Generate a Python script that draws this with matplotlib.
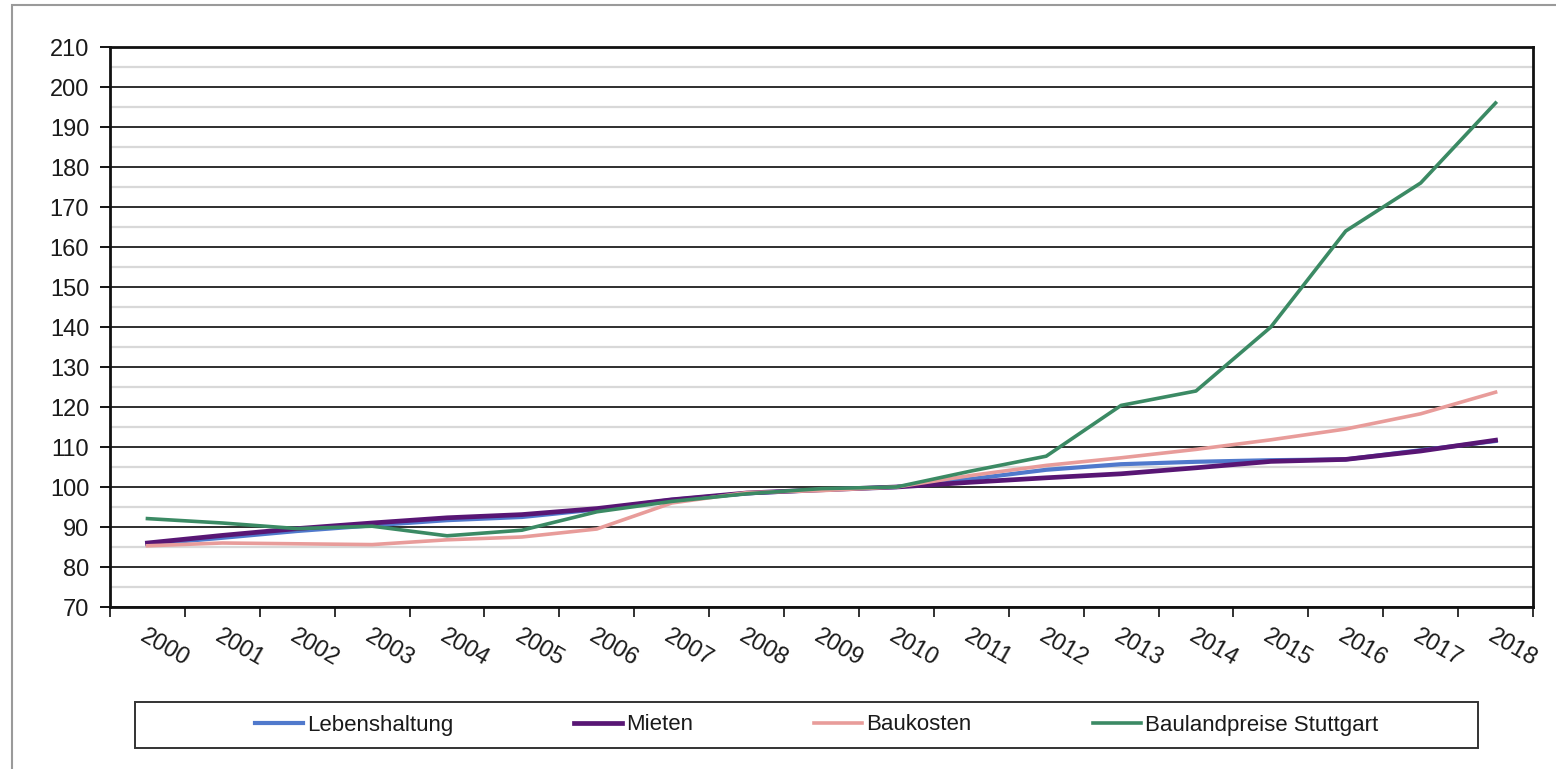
import matplotlib
matplotlib.use('Agg')
import matplotlib.pyplot as plt
from matplotlib.patches import Rectangle
from matplotlib.ticker import MultipleLocator, FixedLocator

plt.rcParams['font.family'] = ['Liberation Sans', 'DejaVu Sans']

years = [str(y) for y in range(2000, 2019)]

lebenshaltung = [85.7, 87.3, 89.0, 90.4, 91.7, 92.5, 94.4, 96.8, 98.4, 99.3, 100.0,
                 102.0, 104.3, 105.7, 106.3, 106.7, 106.9, 109.2, 111.5]
mieten = [86.0, 87.9, 89.6, 91.0, 92.3, 93.1, 94.6, 96.8, 98.5, 99.3, 100.0,
          101.2, 102.3, 103.3, 104.8, 106.4, 106.9, 109.0, 111.7]
baukosten = [85.3, 86.0, 85.8, 85.6, 86.8, 87.5, 89.5, 96.0, 98.6, 99.1, 100.0,
             102.9, 105.4, 107.3, 109.4, 111.8, 114.5, 118.3, 123.7]
bauland = [92.1, 91.0, 89.6, 90.2, 87.8, 89.2, 93.8, 96.4, 98.3, 99.6, 100.0,
           104.0, 107.7, 120.4, 124.0, 140.0, 164.0, 176.0, 196.0]

names = ['Lebenshaltung', 'Mieten', 'Baukosten', 'Baulandpreise Stuttgart']
colors = ['#5079cc', '#581674', '#e89c9a', '#3b8a64']
widths = [3.0, 3.4, 2.6, 2.6]

W, H = 1556, 769
fig = plt.figure(figsize=(W / 100, H / 100), dpi=100)
ax = fig.add_axes([110 / W, 1 - 607 / H, (1533 - 110) / W, (607 - 47) / H])

x = list(range(len(years)))
series = [lebenshaltung, mieten, baukosten, bauland]
handles = []
for i, (vals, name) in enumerate(zip(series, names)):
    ln, = ax.plot(x, vals, color=colors[i], lw=widths[i], label=name, zorder=3 + i,
                  solid_joinstyle='round')
    handles.append(ln)

ax.set_xlim(-0.5, len(years) - 0.5)
ax.set_ylim(70, 210)
ax.yaxis.set_major_locator(MultipleLocator(10))
ax.yaxis.set_minor_locator(MultipleLocator(5))
ax.grid(which='major', axis='y', color='#2e2e2e', lw=1.4, zorder=1)
ax.grid(which='minor', axis='y', color='#d8d8d8', lw=1.6, zorder=0)

ax.set_xticks(x)
ax.set_xticklabels(years, rotation=-30, ha='left', va='top', rotation_mode='anchor')
ax.xaxis.set_minor_locator(FixedLocator([i - 0.5 for i in range(len(years) + 1)]))
ax.tick_params(axis='x', which='major', length=0, pad=13, labelsize=17)
ax.tick_params(axis='x', which='minor', length=7, width=1.3, direction='out', color='#222222')
ax.tick_params(axis='y', which='major', length=7, width=1.3, pad=8, labelsize=17)
ax.tick_params(axis='y', which='minor', length=0)
for lbl in ax.get_xticklabels() + ax.get_yticklabels():
    lbl.set_color('#1a1a1a')

for s in ax.spines.values():
    s.set_color('#111111')
    s.set_linewidth(2)

# outer chart frame
fig.patches.append(Rectangle((12 / W, -0.05), 1.1, 1 - 5 / H + 0.05, transform=fig.transFigure,
                             fill=False, edgecolor='#9a9a9a', lw=1.5))

# legend box
fig.patches.append(Rectangle((135 / W, 1 - 748 / H), (1478 - 135) / W, 46 / H,
                             transform=fig.transFigure, fill=False, edgecolor='#333333', lw=1.4))
leg = fig.legend(handles=handles, labels=names, loc='center', bbox_to_anchor=(816.5 / W, 1 - 725 / H),
                 ncol=4, frameon=False, fontsize=16, handlelength=2.16, handletextpad=0.18,
                 columnspacing=5.45, borderpad=0, borderaxespad=0)
for t in leg.get_texts():
    t.set_color('#1a1a1a')

fig.savefig('out.png', dpi=100)
